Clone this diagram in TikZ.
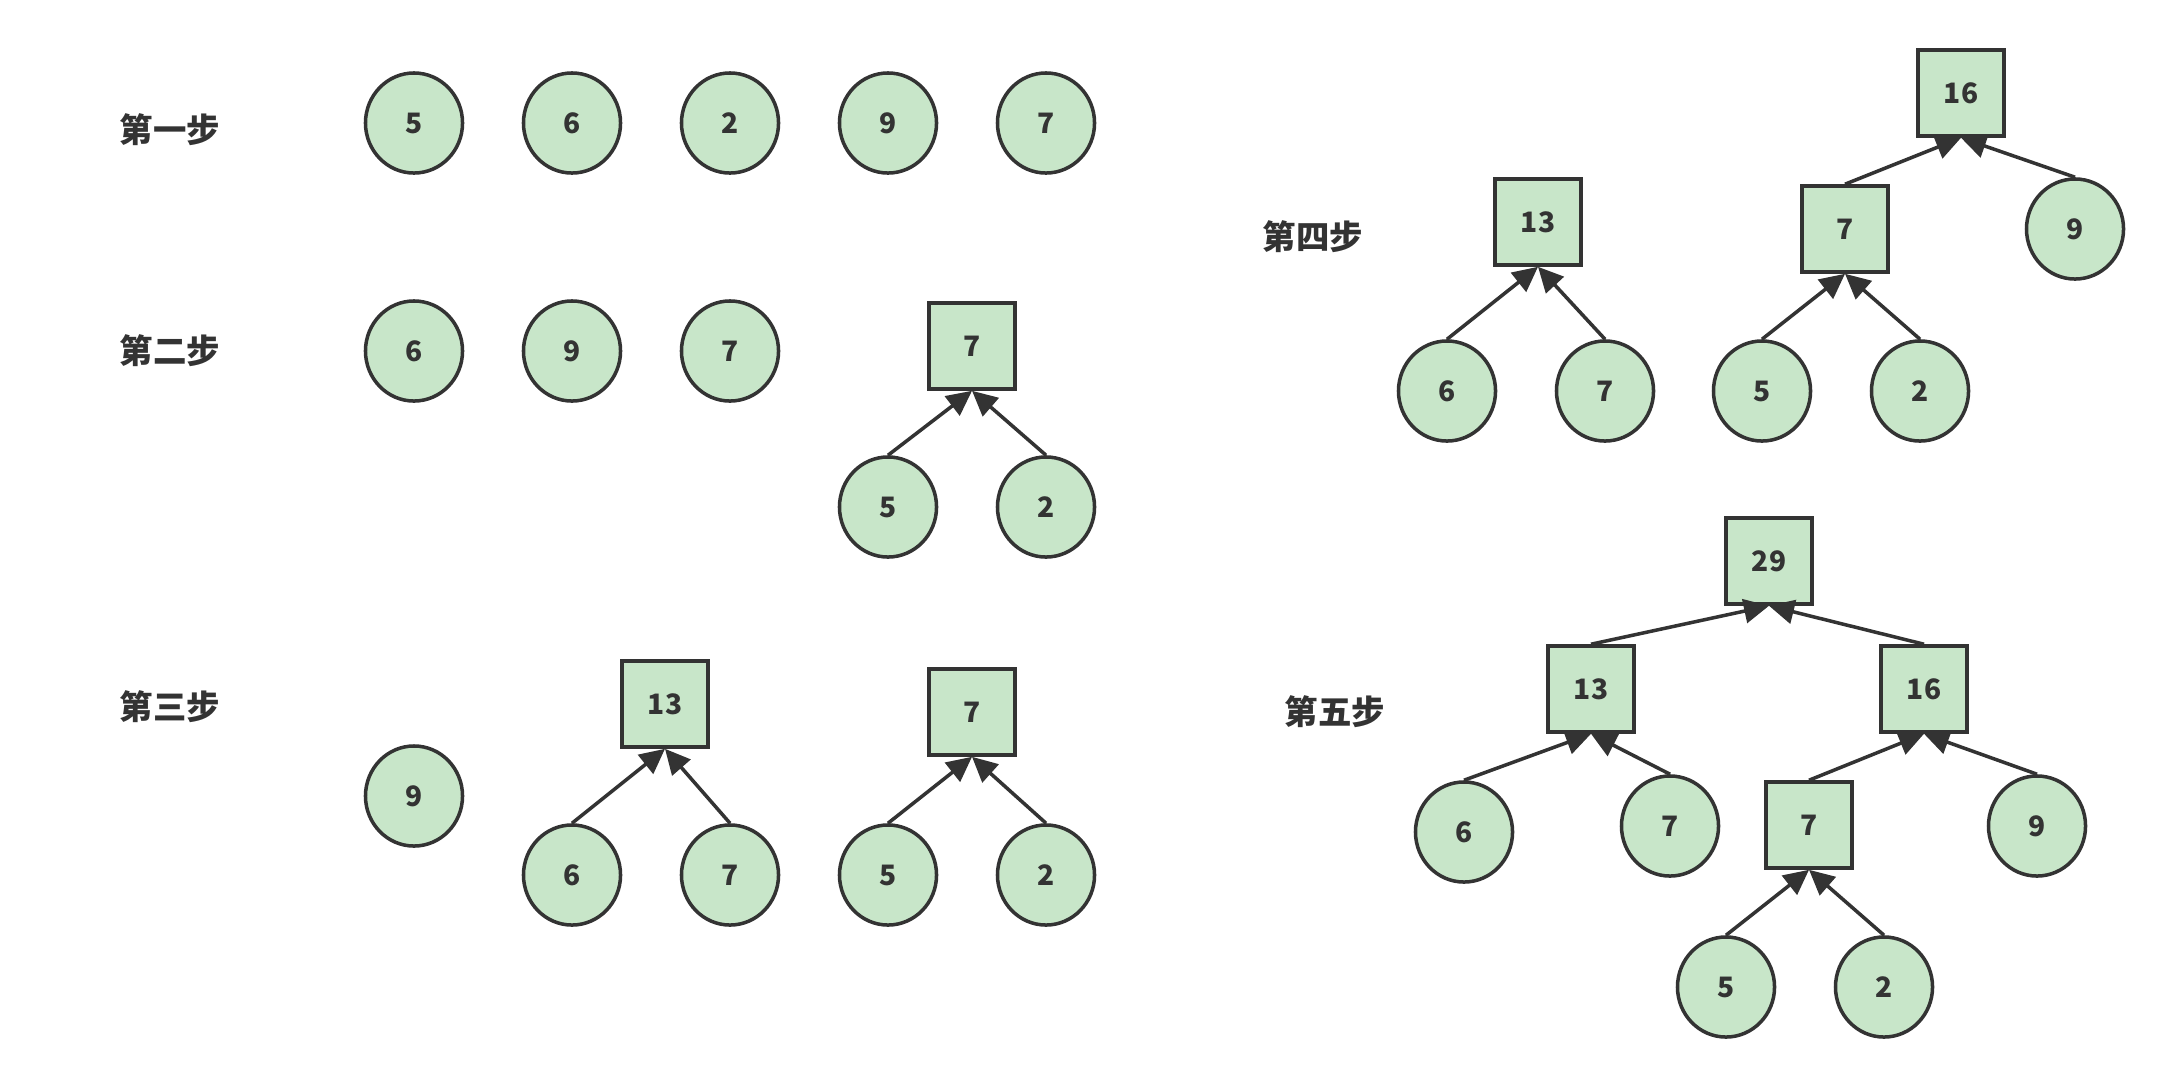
\documentclass[tikz,border=0pt]{standalone}
\usepackage{fontspec}
\setmainfont{Noto Sans CJK SC}
\usetikzlibrary{shapes.geometric,arrows.meta}
\definecolor{leaf}{HTML}{C8E6C9}
\definecolor{ink}{HTML}{333333}
\tikzset{
  leafnode/.style={ellipse,draw=ink,fill=leaf,text=ink,line width=1pt,
    minimum width=0.97cm,minimum height=1cm,inner sep=0pt,font=\fontsize{8}{9}\selectfont\bfseries},
  sumnode/.style={rectangle,draw=ink,fill=leaf,text=ink,line width=1pt,
    minimum size=0.86cm,inner sep=0pt,font=\fontsize{8}{9}\selectfont\bfseries},
  link/.style={draw=ink,line width=1pt,-{Triangle[length=0.25cm,width=0.24cm]}},
  steplabel/.style={text=ink,font=\fontsize{9.5}{11}\selectfont\bfseries}
}
\begin{document}
\begin{tikzpicture}[x=0.01cm,y=-0.01cm]
\useasboundingbox (0,0) rectangle (2173,1087);
% step 1
\node[steplabel] (l1) at (170,130) {第一步};
\foreach \v [count=\i] in {5,6,2,9,7}
  \node[leafnode] (a\i) at ({414+158*(\i-1)},123) {\v};
% step 2
\node[steplabel] (l2) at (170,351) {第二步};
\foreach \v [count=\i] in {6,9,7}
  \node[leafnode] (b\i) at ({414+158*(\i-1)},351) {\v};
\node[sumnode] (b4) at (972,346) {7};
\node[leafnode] (b5) at (888,507) {5};
\node[leafnode] (b6) at (1046,507) {2};
\draw[link] (b5.north) -- (b4.south);
\draw[link] (b6.north) -- (b4.south);
% step 3
\node[steplabel] (l3) at (170,707) {第三步};
\node[leafnode] (c1) at (414,796) {9};
\node[sumnode] (c2) at (665,704) {13};
\node[leafnode] (c3) at (572,875) {6};
\node[leafnode] (c4) at (730,875) {7};
\node[sumnode] (c5) at (972,712) {7};
\node[leafnode] (c6) at (888,875) {5};
\node[leafnode] (c7) at (1046,875) {2};
\draw[link] (c3.north) -- (c2.south);
\draw[link] (c4.north) -- (c2.south);
\draw[link] (c6.north) -- (c5.south);
\draw[link] (c7.north) -- (c5.south);
% step 4
\node[steplabel] (l4) at (1313,237) {第四步};
\node[sumnode] (d1) at (1538,222) {13};
\node[leafnode] (d2) at (1447,391) {6};
\node[leafnode] (d3) at (1605,391) {7};
\node[sumnode] (d4) at (1961,93) {16};
\node[sumnode] (d5) at (1845,229) {7};
\node[leafnode] (d6) at (2075,229) {9};
\node[leafnode] (d7) at (1762,391) {5};
\node[leafnode] (d8) at (1920,391) {2};
\draw[link] (d2.north) -- (d1.south);
\draw[link] (d3.north) -- (d1.south);
\draw[link] (d5.north) -- (d4.south);
\draw[link] (d6.north) -- (d4.south);
\draw[link] (d7.north) -- (d5.south);
\draw[link] (d8.north) -- (d5.south);
% step 5
\node[steplabel] (l5) at (1335,712) {第五步};
\node[sumnode] (e1) at (1769,561) {29};
\node[sumnode] (e2) at (1591,689) {13};
\node[sumnode] (e3) at (1924,689) {16};
\node[leafnode] (e4) at (1464,832) {6};
\node[leafnode] (e5) at (1670,826) {7};
\node[sumnode] (e6) at (1809,825) {7};
\node[leafnode] (e7) at (2037,826) {9};
\node[leafnode] (e8) at (1726,987) {5};
\node[leafnode] (e9) at (1884,987) {2};
\draw[link] (e2.north) -- (e1.south);
\draw[link] (e3.north) -- (e1.south);
\draw[link] (e4.north) -- (e2.south);
\draw[link] (e5.north) -- (e2.south);
\draw[link] (e6.north) -- (e3.south);
\draw[link] (e7.north) -- (e3.south);
\draw[link] (e8.north) -- (e6.south);
\draw[link] (e9.north) -- (e6.south);
\end{tikzpicture}
\end{document}
